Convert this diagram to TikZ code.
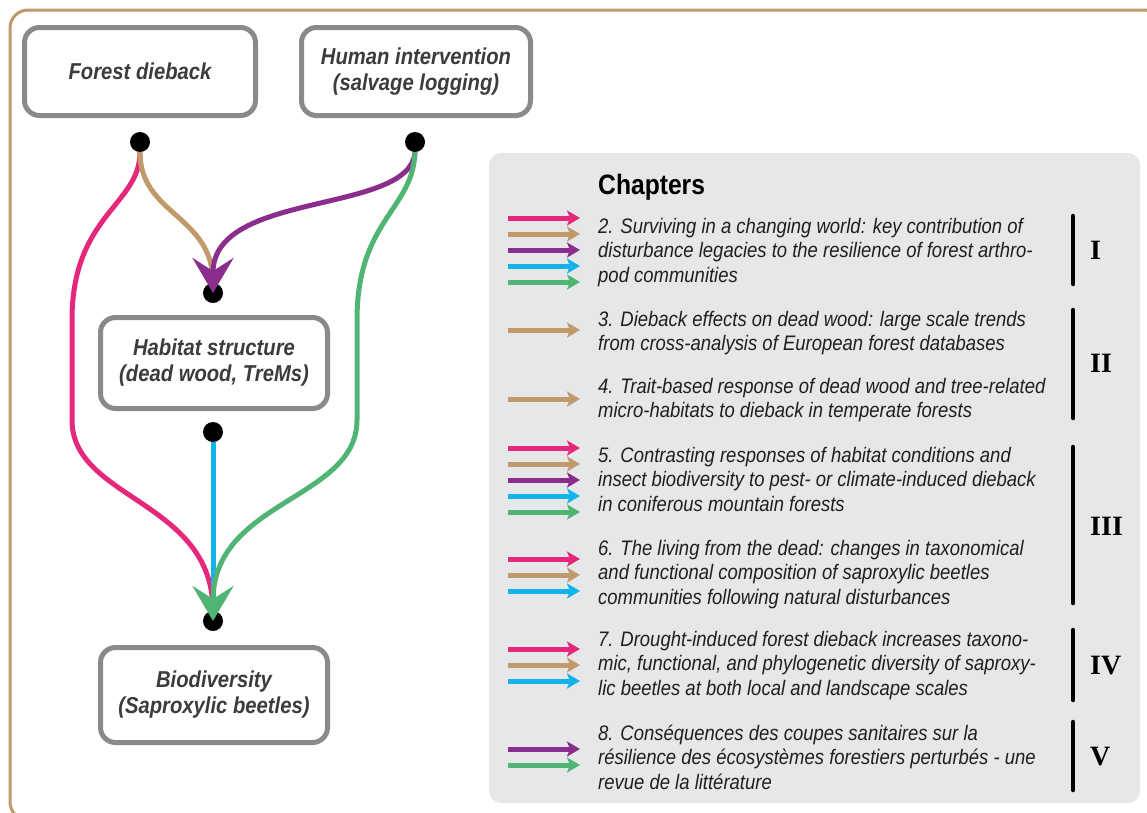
\documentclass[tikz,border=0pt]{standalone}
\usepackage{fontspec}
\setmainfont{Liberation Sans}[FakeStretch=0.88]
\newfontfamily\romfont{Liberation Serif}
\usetikzlibrary{arrows.meta}
\definecolor{pinkc}{HTML}{E5287B}
\definecolor{tanc}{HTML}{C19A6B}
\definecolor{purplec}{HTML}{8B2D8D}
\definecolor{bluec}{HTML}{12B2EA}
\definecolor{greenc}{HTML}{50B574}
\definecolor{boxgray}{HTML}{8A8A8D}
\definecolor{textgray}{HTML}{3C3C3C}
\definecolor{panelgray}{HTML}{E6E7E8}

\begin{document}
\begin{tikzpicture}[x=1pt, y=-1pt,
        box/.style={draw=boxgray, line width=5pt, rounded corners=15pt, fill=white, text=textgray, align=center, font=\fontsize{23}{26}\selectfont\bfseries\itshape},
        dot/.style={circle, fill=black, minimum size=20pt, inner sep=0pt},
        link/.style={line width=5pt},
        bigtip/.style={-{Stealth[length=35pt, width=41pt, inset=13pt]}},
        legarrow/.style={line width=5pt, -{Stealth[length=13pt, width=15pt, inset=3pt]}},
        chaptext/.style={anchor=base west, align=left, inner sep=0pt, text=black!88, font=\fontsize{21}{24.5}\selectfont\itshape},
        roman/.style={anchor=west, inner sep=0pt, font=\romfont\bfseries\fontsize{28}{28}\selectfont},
        bar/.style={line width=4.5pt, line cap=round}
    ]
        \useasboundingbox (0,0) rectangle (1147,812);
        \draw[tanc, line width=3pt, rounded corners=18pt] (10,10) rectangle (1162,820);
        \fill[panelgray, rounded corners=12pt] (489,153) rectangle (1140,803);

        \node[box, minimum width=231pt, minimum height=88pt] (forest) at (140,71.5) {Forest dieback};
        \node[box, minimum width=229pt, minimum height=88pt] (human) at (416,71.5) {Human intervention\\(salvage logging)};
        \node[box, minimum width=227pt, minimum height=91pt] (habitat) at (214,363) {Habitat structure\\(dead wood, TreMs)};
        \node[box, minimum width=227pt, minimum height=95pt] (biodiv) at (214,695) {Biodiversity\\(Saproxylic beetles)};

        \node[dot] (fdot) at (140,142) {};
        \node[dot] (hdot) at (415,142) {};
        \node[dot] (habin) at (213,293) {};
        \node[dot] (habout) at (213,432) {};
        \node[dot] (biodot) at (213,621) {};

        \draw[link, pinkc] (fdot.south) .. controls (140,205) and (72,215) .. (72,320) -- (72,420) .. controls (72,500) and (213,500) .. (biodot.north);
        \draw[link, tanc] (fdot.south) .. controls (140,215) and (213,215) .. (habin.north);
        \draw[link, bluec] (habout.south) -- (biodot.north);
        \draw[link, bigtip, purplec] (hdot.south) .. controls (410,215) and (213,190) .. (habin.center);
        \draw[link, bigtip, greenc] (hdot.south) .. controls (413,210) and (357,220) .. (357,320) -- (357,420) .. controls (357,500) and (213,500) .. (biodot.center);

        \node[anchor=base west, inner sep=0pt, font=\fontsize{28}{28}\selectfont\bfseries] (chapters) at (598,194) {Chapters};

        \node[chaptext] (ch2) at (598,282) {2. Surviving in a changing world: key contribution of\\disturbance legacies to the resilience of forest arthro-\\pod communities};
        \node[chaptext] (ch3) at (598,350.5) {3. Dieback effects on dead wood: large scale trends\\from cross-analysis of European forest databases};
        \node[chaptext] (ch4) at (598,417.5) {4. Trait-based response of dead wood and tree-related\\micro-habitats to dieback in temperate forests};
        \node[chaptext] (ch5) at (598,511) {5. Contrasting responses of habitat conditions and\\insect biodiversity to pest- or climate-induced dieback\\in coniferous mountain forests};
        \node[chaptext] (ch6) at (598,604) {6. The living from the dead: changes in taxonomical\\and functional composition of saproxylic beetles\\communities following natural disturbances};
        \node[chaptext] (ch7) at (598,695) {7. Drought-induced forest dieback increases taxono-\\mic, functional, and phylogenetic diversity of saproxy-\\lic beetles at both local and landscape scales};
        \node[chaptext] (ch8) at (598,789) {8. Conséquences des coupes sanitaires sur la\\résilience des écosystèmes forestiers perturbés - une\\revue de la littérature};

        \foreach \c [count=\i from 0] in {pinkc,tanc,purplec,bluec,greenc}
            \draw[legarrow, \c] (508,218+16*\i) -- ++(72,0);
        \draw[legarrow, tanc] (508,330) -- ++(72,0);
        \draw[legarrow, tanc] (508,399) -- ++(72,0);
        \foreach \c [count=\i from 0] in {pinkc,tanc,purplec,bluec,greenc}
            \draw[legarrow, \c] (508,448+16*\i) -- ++(72,0);
        \foreach \c [count=\i from 0] in {pinkc,tanc,bluec}
            \draw[legarrow, \c] (508,559+16*\i) -- ++(72,0);
        \foreach \c [count=\i from 0] in {pinkc,tanc,bluec}
            \draw[legarrow, \c] (508,649+16*\i) -- ++(72,0);
        \foreach \c [count=\i from 0] in {purplec,greenc}
            \draw[legarrow, \c] (508,749+16*\i) -- ++(72,0);

        \draw[bar] (1073,216) -- (1073,284);
        \draw[bar] (1073,310) -- (1073,418);
        \draw[bar] (1073,447) -- (1073,603);
        \draw[bar] (1073,630) -- (1073,700);
        \draw[bar] (1073,722) -- (1073,790);

        \node[roman] (p1) at (1090,250) {I};
        \node[roman] (p2) at (1090,363) {II};
        \node[roman] (p3) at (1090,526) {III};
        \node[roman] (p4) at (1090,666) {IV};
        \node[roman] (p5) at (1090,757) {V};
    \end{tikzpicture}
\end{document}
